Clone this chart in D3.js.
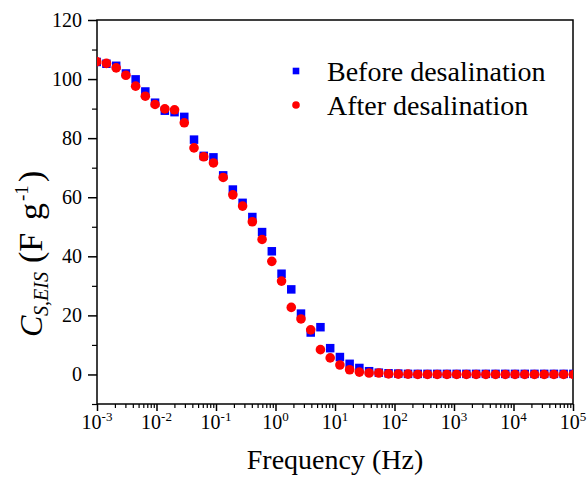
<!DOCTYPE html>
<html>
<head>
<meta charset="utf-8">
<script src="https://cdn.jsdelivr.net/npm/d3@7"></script>
<style>
  body { margin: 0; background: #fff; }
</style>
</head>
<body>
<div class="chart"></div>
<script>
// frequency (Hz)
const freq = [0.000989, 0.00144, 0.0021, 0.00306, 0.00446, 0.00649, 0.00946, 0.0138, 0.0201, 0.0293,
  0.0427, 0.0622, 0.0906, 0.132, 0.192, 0.280, 0.408, 0.595, 0.867, 1.263,
  1.841, 2.682, 3.908, 5.695, 8.299, 12.09, 17.62, 25.68, 37.41, 54.52,
  79.43, 115.7, 168.7, 245.8, 358.1, 521.8, 760.3, 1108, 1614, 2352,
  3428, 4994, 7278, 10605, 15453, 22517, 32810, 47807, 69663, 101508];

const before = [105.8, 105.2, 104.5, 101.9, 99.9, 95.8, 92.0, 89.3, 88.8, 87.2,
  79.5, 74.0, 73.5, 67.4, 62.6, 58.1, 53.3, 48.2, 41.7, 34.1,
  28.8, 20.6, 14.2, 16.0, 8.9, 5.9, 3.6, 2.2, 1.1, 0.6,
  0.4, 0.3, 0.2, 0.2, 0.2, 0.2, 0.2, 0.2, 0.2, 0.2,
  0.2, 0.2, 0.2, 0.2, 0.2, 0.2, 0.2, 0.2, 0.2, 0.2];

const after = [105.9, 105.3, 103.8, 101.3, 97.6, 94.2, 91.4, 89.9, 89.6, 85.2,
  76.7, 73.7, 71.6, 66.7, 60.8, 57.0, 51.7, 45.7, 38.3, 31.6,
  22.7, 18.8, 15.1, 8.4, 5.6, 3.2, 1.6, 0.8, 0.5, 0.5,
  0.2, 0.1, 0.1, 0, 0, 0, 0, 0, 0, 0,
  0, 0, 0, 0, 0, 0, 0, 0, 0, 0];

const seriesNames = ["Before desalination", "After desalination"];
const xTicks = [1e-3, 1e-2, 1e-1, 1e0, 1e1, 1e2, 1e3, 1e4, 1e5];
const xExponents = ["-3", "-2", "-1", "0", "1", "2", "3", "4", "5"];
const yTicks = [0, 20, 40, 60, 80, 100, 120];
const yMinorTicks = [-10, 10, 30, 50, 70, 90, 110];

const FONT = "Liberation Serif";
const width = 588, height = 478;
const margin = {top: 20, right: 15, bottom: 74, left: 97};

const svg = d3.select('.chart')
  .append('svg')
  .attr('width', width)
  .attr('height', height)
  .attr('font-family', FONT);

const xScale = d3.scaleLog()
  .domain([1e-3, 1e5])
  .range([margin.left, width - margin.right]);

const yScale = d3.scaleLinear()
  .domain([-10, 120])
  .range([height - margin.bottom, margin.top]);

// minor x ticks (2..9 in each decade)
let xMinor = [];
xTicks.slice(0, -1).forEach(function(t){
  for (let k = 2; k <= 9; k++) xMinor.push(t * k);
});

// x axis
svg.append("g")
  .attr("transform", "translate(0," + yScale.range()[0] + ")")
  .call(d3.axisBottom(xScale).tickValues(xMinor).tickSize(4).tickFormat(""))
  .call(g => g.select(".domain").remove())
  .selectAll("line").attr("stroke", "#000").attr("stroke-width", 1.2);

const xAxis = svg.append("g")
  .attr("transform", "translate(0," + yScale.range()[0] + ")")
  .call(d3.axisBottom(xScale).tickValues(xTicks).tickSize(7).tickFormat(""));
xAxis.select(".domain").remove();
xAxis.selectAll("line").attr("stroke", "#000").attr("stroke-width", 1.5);

xTicks.forEach(function(t, i){
  const txt = svg.append("text")
    .attr("x", xScale(t))
    .attr("y", yScale.range()[0] + 25)
    .attr("text-anchor", "middle")
    .attr("font-family", FONT)
    .attr("font-size", 20);
  txt.append("tspan").text("10");
  txt.append("tspan")
    .attr("dy", -8)
    .attr("font-size", 13)
    .text(xExponents[i]);
});

// y axis
const yMinorAxis = svg.append("g")
  .attr("transform", "translate(" + margin.left + ",0)")
  .call(d3.axisLeft(yScale).tickValues(yMinorTicks).tickSize(5).tickFormat(""));
yMinorAxis.select(".domain").remove();
yMinorAxis.selectAll("line").attr("stroke", "#000").attr("stroke-width", 1.2);

const yAxis = svg.append("g")
  .attr("transform", "translate(" + margin.left + ",0)")
  .call(d3.axisLeft(yScale).tickValues(yTicks).tickSize(9).tickPadding(6));
yAxis.select(".domain").remove();
yAxis.attr("font-family", FONT).attr("font-size", 20);
yAxis.selectAll("line").attr("stroke", "#000").attr("stroke-width", 1.5);
yAxis.selectAll("text").attr("fill", "#000");

// frame
svg.append("rect")
  .attr("x", xScale.range()[0])
  .attr("y", yScale.range()[1])
  .attr("width", xScale.range()[1] - xScale.range()[0])
  .attr("height", yScale.range()[0] - yScale.range()[1])
  .attr("fill", "none")
  .attr("stroke", "#000")
  .attr("stroke-width", 1.5);

// clip for points
svg.append("clipPath").attr("id", "plotclip")
  .append("rect")
  .attr("x", xScale.range()[0])
  .attr("y", yScale.range()[1])
  .attr("width", xScale.range()[1] - xScale.range()[0])
  .attr("height", yScale.range()[0] - yScale.range()[1]);

const plot = svg.append("g").attr("clip-path", "url(#plotclip)");
const sq = 8.5;

plot.selectAll(".sq")
  .data(before)
  .enter()
  .append("rect")
  .attr("class", "sq")
  .attr("x", function(d, i){ return xScale(freq[i]) - sq / 2; })
  .attr("y", function(d){ return yScale(d) - sq / 2; })
  .attr("width", sq)
  .attr("height", sq)
  .attr("fill", "#0000ff");

plot.selectAll(".dot")
  .data(after)
  .enter()
  .append("circle")
  .attr("class", "dot")
  .attr("cx", function(d, i){ return xScale(freq[i]); })
  .attr("cy", function(d){ return yScale(d); })
  .attr("r", 4.8)
  .attr("fill", "#ff0000");

// legend
const legend = svg.append("g");
legend.append("rect")
  .attr("x", 296 - 3.3).attr("y", 71 - 3.3)
  .attr("width", 6.6).attr("height", 6.6)
  .attr("fill", "#0000ff");
legend.append("circle")
  .attr("cx", 296).attr("cy", 105).attr("r", 3.8)
  .attr("fill", "#ff0000");
legend.selectAll(".lt")
  .data(seriesNames)
  .enter()
  .append("text")
  .attr("class", "lt")
  .attr("x", 327)
  .attr("y", function(d, i){ return 81 + i * 34; })
  .attr("font-family", FONT)
  .attr("font-size", 28)
  .text(function(d){ return d; });

// axis titles
svg.append("text")
  .attr("x", (xScale.range()[0] + xScale.range()[1]) / 2)
  .attr("y", 469)
  .attr("text-anchor", "middle")
  .attr("font-family", FONT)
  .attr("font-size", 28)
  .text("Frequency (Hz)");

const yTitle = svg.append("text")
  .attr("transform", "translate(42,337) rotate(-90)")
  .attr("font-family", FONT)
  .attr("font-size", 34);
yTitle.append("tspan").attr("x", 0).attr("font-style", "italic").attr("font-size", 32).text("C");
yTitle.append("tspan").attr("x", 21).attr("dy", 6).attr("font-style", "italic").attr("font-size", 20).text("S,EIS");
yTitle.append("tspan").attr("x", 74).attr("dy", -6).text("(F");
yTitle.append("tspan").attr("x", 117).text("g");
yTitle.append("tspan").attr("x", 136).attr("dy", -14).attr("font-size", 19).text("-1");
yTitle.append("tspan").attr("x", 155).attr("dy", 14).text(")");
</script>
</body>
</html>
